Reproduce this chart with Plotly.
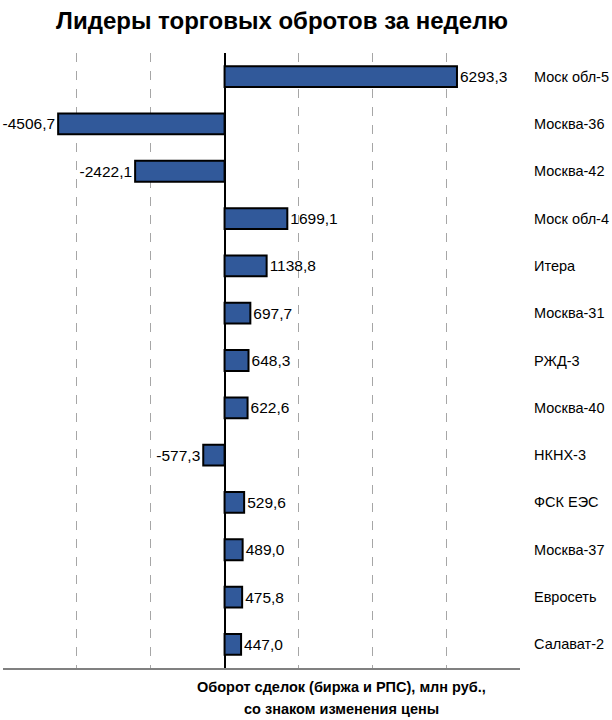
import plotly.graph_objects as go

categories = ["Моск обл-5", "Москва-36", "Москва-42", "Моск обл-4", "Итера", "Москва-31",
              "РЖД-3", "Москва-40", "НКНХ-3", "ФСК ЕЭС", "Москва-37", "Евросеть", "Салават-2"]
values = [6293.3, -4506.7, -2422.1, 1699.1, 1138.8, 697.7, 648.3, 622.6, -577.3, 529.6, 489.0, 475.8, 447.0]
grid_vals = [-4000, -2000, 2000, 4000, 6000]

font = "Liberation Sans, Arial, sans-serif"

fig = go.Figure(go.Bar(
    x=values, y=categories, orientation="h",
    marker=dict(color="#31599A", line=dict(color="black", width=2)),
    texttemplate="%{x:.1f}", textposition="outside",
    textfont=dict(family=font, size=15.5, color="black"),
    cliponaxis=False,
))

fig.update_layout(
    width=612, height=720,
    margin=dict(l=3, r=92, t=53, b=52, autoexpand=False),
    plot_bgcolor="white", paper_bgcolor="white",
    separators=", ",
    bargap=0.56,
    showlegend=False,
    title=dict(text="<b>Лидеры торговых обротов за неделю</b>",
               x=282/612, xanchor="center", y=1-21/720, yanchor="middle",
               font=dict(family=font, size=24, color="black")),
    xaxis=dict(range=[-6000, 8000], tickvals=grid_vals, showticklabels=False, ticks="",
               showgrid=True, gridcolor="#A6A6A6", griddash="dash", gridwidth=1,
               zeroline=True, zerolinecolor="black", zerolinewidth=1.5,
               showline=True, linecolor="#808080", linewidth=2, automargin=False),
    yaxis=dict(autorange="reversed", side="right", showgrid=False, zeroline=False,
               showline=False, ticks="", ticklabelstandoff=13, automargin=False,
               tickfont=dict(family=font, size=14.5, color="black")),
)

for txt, ypx in [("<b>Оборот сделок (биржа и РПС), млн руб.,</b>", 687),
                 ("<b>со знаком изменения цены</b>", 709)]:
    fig.add_annotation(
        text=txt, xref="paper", yref="paper", x=(341-3)/517, y=-(ypx-668)/615,
        xanchor="center", yanchor="middle", showarrow=False,
        font=dict(family=font, size=14.5, color="black"))

fig.write_html("out.html")
